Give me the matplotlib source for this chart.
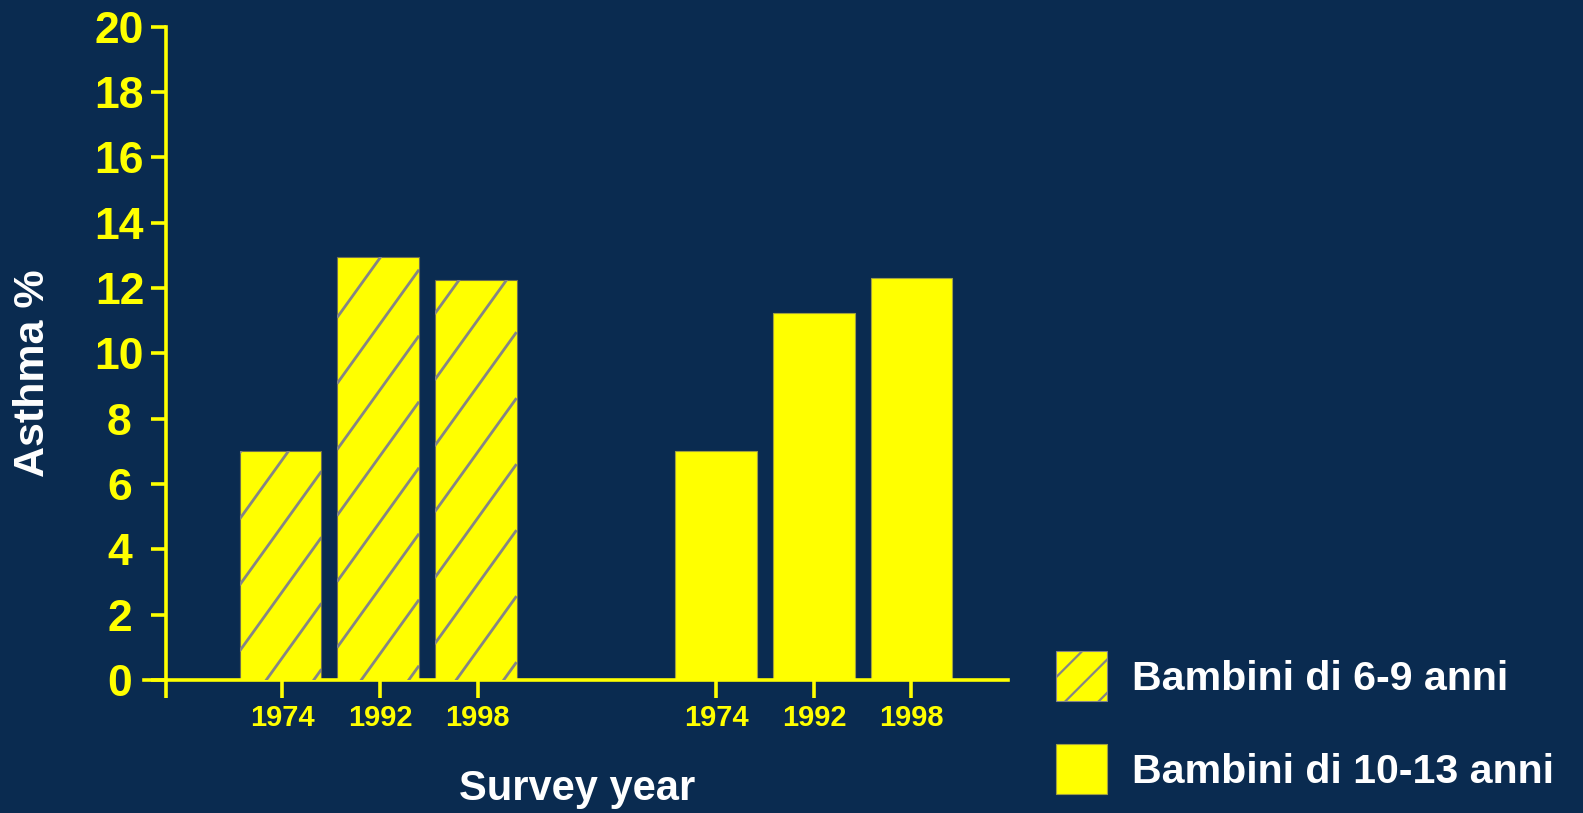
import numpy as np
import matplotlib
matplotlib.use("Agg")
import matplotlib.pyplot as plt
from matplotlib.patches import Rectangle

# data
years = ["1974", "1992", "1998"]
asthma_6_9 = [7.0, 12.95, 12.25]
asthma_10_13 = [7.0, 11.25, 12.3]
group_labels = ["Bambini di 6-9 anni", "Bambini di 10-13 anni"]
y_ticks = list(range(0, 21, 2))

bg = "#0a2b50"
yellow = "#ffff00"
hatch_grey = "#858585"

plt.rcParams["font.family"] = ["Liberation Sans", "DejaVu Sans"]
plt.rcParams["font.weight"] = "bold"
plt.rcParams["hatch.linewidth"] = 1.6

W, H = 1583, 813
fig = plt.figure(figsize=(W / 100, H / 100), dpi=100, facecolor=bg)
ax = fig.add_axes([144 / W, (H - 680) / H, 864 / W, 653.3 / H])
ax.set_facecolor(bg)

pos1 = np.arange(len(years))
pos2 = pos1 + 4.45
bar_w = 0.84
x_left, x_right = -1.42, 7.44
spine_x = -1.19

bars1 = ax.bar(pos1 - 0.02, asthma_6_9, width=bar_w, color=yellow,
               edgecolor="#707050", linewidth=0.8, zorder=2)
bars2 = ax.bar(pos2, asthma_10_13, width=bar_w, color=yellow,
               edgecolor="#a0a040", linewidth=0.8, zorder=2)

ax.set_xlim(x_left, x_right)
ax.set_ylim(0, 20)

# hatch drawn by hand: steeper and wider spaced than matplotlib's '/'
px_x = 864 / (x_right - x_left)
px_y = 653.3 / 20
slope = 1.39 * px_x / px_y
spacing = 66 / px_y
phase = 0.69
for rect in bars1:
    x0 = rect.get_x()
    x1 = x0 + rect.get_width()
    h = rect.get_height()
    k_min = int(np.floor((0 - slope * x1 - phase) / spacing)) - 1
    k_max = int(np.ceil((h - slope * x0 - phase) / spacing)) + 1
    for k in range(k_min, k_max + 1):
        xs = np.array([x0, x1])
        ys = k * spacing + slope * xs + phase
        ln, = ax.plot(xs, ys, color=hatch_grey, lw=2.0, zorder=3,
                      solid_capstyle="butt")
        ln.set_clip_path(rect)

# axes styling
for side in ["top", "right"]:
    ax.spines[side].set_visible(False)
ax.spines["left"].set_position(("data", spine_x))
ax.spines["left"].set_bounds(0, 20)
for side in ["left", "bottom"]:
    ax.spines[side].set_color(yellow)
    ax.spines[side].set_linewidth(2.6)

ax.set_yticks(y_ticks)
ax.set_yticklabels([str(t) for t in y_ticks], ha="center")
ax.tick_params(axis="y", colors=yellow, length=10.8, width=2.6, pad=23,
               labelsize=32)

ax.set_xticks([spine_x] + list(pos1) + list(pos2))
ax.set_xticklabels([""] + years + years)
ax.tick_params(axis="x", colors=yellow, length=13, width=2.6, pad=4.5,
               labelsize=21)
for lbl in ax.get_xticklabels() + ax.get_yticklabels():
    lbl.set_fontweight("bold")

ax.set_ylabel("Asthma %", color="white", fontsize=31, fontweight="bold",
              va="center")
ax.yaxis.set_label_coords(-0.128, 0.47)
ax.set_xlabel("Survey year", color="white", fontsize=30, fontweight="bold",
              va="baseline")
ax.xaxis.set_label_coords(0.501, -0.184)

# legend
h1 = Rectangle((0, 0), 1, 1, facecolor=yellow, edgecolor=hatch_grey,
               hatch="/", linewidth=0.8)
h2 = Rectangle((0, 0), 1, 1, facecolor=yellow, edgecolor="#a0a040",
               linewidth=0.8)
fig.legend([h1, h2], group_labels, loc="upper left",
           bbox_to_anchor=(1056 / W, 1 - 651 / H), frameon=False,
           prop={"size": 29.6, "weight": "bold"}, labelcolor="white",
           handlelength=1.24, handleheight=1.49, labelspacing=1.05,
           handletextpad=0.6, borderpad=0, borderaxespad=0)

fig.savefig("out.png", dpi=100, facecolor=bg)
